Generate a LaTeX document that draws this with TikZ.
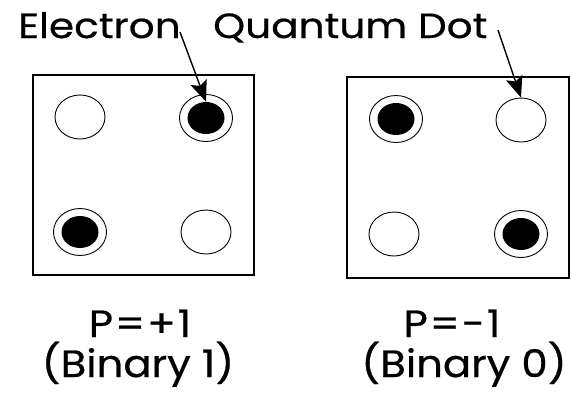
\documentclass[tikz,border=0pt]{standalone}
\usepackage{fontspec}
\setmainfont{Poppins}
\newfontfamily\topfont{Poppins}[FakeStretch=1.16,FakeBold=0.6]
\newfontfamily\botfont{Poppins}[FakeStretch=1.1,FakeBold=0.6]
\usetikzlibrary{shapes.geometric,arrows.meta}
\begin{document}
\begin{tikzpicture}[x=1pt,y=-1pt,
  box/.style={draw,line width=1.7pt},
  qdot/.style={ellipse,draw,line width=0.9pt,inner sep=0,minimum width=50,minimum height=44},
  ringdot/.style={ellipse,draw,line width=0.9pt,inner sep=0,minimum width=53,minimum height=47},
  electron/.style={ellipse,fill=black,inner sep=0,minimum width=37,minimum height=32},
  toplabel/.style={anchor=base west,inner sep=0,font=\topfont\fontsize{35}{35}\selectfont},
  botlabel/.style={anchor=base,inner sep=0,font=\botfont\fontsize{38}{38}\selectfont},
  arr/.style={line width=1.4pt,-{Stealth[length=21pt,width=17pt,inset=4pt]}}]
\useasboundingbox (0,0) rectangle (571,392);
% boxes
\draw[box] (33,75) rectangle (254,275);
\draw[box] (347,77) rectangle (569,278);
% left box dots
\node[qdot] (lTL) at (80,117) {};
\node[ringdot] (lTR) at (206,118) {};
\node[electron] (lTRe) at (206,118) {};
\node[ringdot] (lBL) at (80,232) {};
\node[electron] (lBLe) at (80,232) {};
\node[qdot] (lBR) at (206,232) {};
% right box dots
\node[ringdot] (rTL) at (396,119) {};
\node[electron] (rTLe) at (396,119) {};
\node[qdot] (rTR) at (521,120) {};
\node[qdot] (rBL) at (394,234) {};
\node[ringdot] (rBR) at (521,234) {};
\node[electron] (rBRe) at (521,234) {};
% top labels
\node[toplabel] (elab) at (18,38) {Electron};
\node[toplabel] (qlab) at (213,38) {Quantum Dot};
\coordinate (ea) at (180,32);
\coordinate (qa) at (498,30);
\draw[arr] (ea) -- (lTRe.north);
\draw[arr] (qa) -- (rTR.north);
% bottom labels
\node[botlabel] (p1) at (140,337) {P\kern2pt=\kern2pt+\kern2pt1};
\node[botlabel] (b1) at (138,377) {(Binary 1)};
\node[botlabel] (p2) at (452,337) {P\kern2pt=\kern2pt-\kern2pt1};
\node[botlabel] (b2) at (464,377) {(Binary 0)};
\end{tikzpicture}
\end{document}
